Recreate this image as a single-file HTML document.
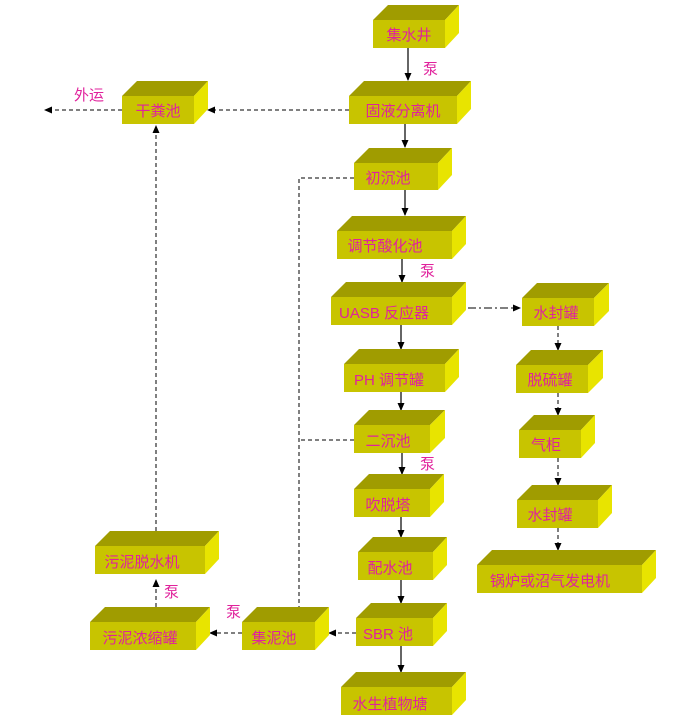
<!DOCTYPE html>
<html><head><meta charset="utf-8"><style>
html,body{margin:0;padding:0;background:#fff;}
svg{display:block}
text{font-family:"Liberation Sans","Noto Sans CJK SC",sans-serif;font-size:15px;fill:#e0229c;}
.f{fill:#c8c400}.t{fill:#a09c00}.r{fill:#e8e400}
.s{stroke:#000;stroke-width:1.2;fill:none}
.d{stroke:#000;stroke-width:1;fill:none;stroke-dasharray:4,3}
.dd{stroke:#000;stroke-width:1;fill:none;stroke-dasharray:8,3,2,3}
</style></head><body>
<svg width="684" height="723" viewBox="0 0 684 723" xmlns="http://www.w3.org/2000/svg">
<defs><marker id="a" markerWidth="8" markerHeight="8" refX="7" refY="4" orient="auto" markerUnits="userSpaceOnUse"><path d="M0,0.5 L8,4 L0,7.5 Z" fill="#000"/></marker></defs>

<!-- connectors -->
<line class="s" x1="408" y1="48" x2="408" y2="80" marker-end="url(#a)"/>
<line class="s" x1="405" y1="124" x2="405" y2="147" marker-end="url(#a)"/>
<line class="s" x1="405" y1="190" x2="405" y2="215" marker-end="url(#a)"/>
<line class="s" x1="402" y1="259" x2="402" y2="282" marker-end="url(#a)"/>
<line class="s" x1="401" y1="325" x2="401" y2="349" marker-end="url(#a)"/>
<line class="s" x1="401" y1="392" x2="401" y2="410" marker-end="url(#a)"/>
<line class="s" x1="402" y1="453" x2="402" y2="474" marker-end="url(#a)"/>
<line class="s" x1="401" y1="517" x2="401" y2="537" marker-end="url(#a)"/>
<line class="s" x1="401" y1="580" x2="401" y2="603" marker-end="url(#a)"/>
<line class="s" x1="401" y1="646" x2="401" y2="672" marker-end="url(#a)"/>

<line class="d" x1="349" y1="110" x2="208" y2="110" marker-end="url(#a)"/>
<line class="d" x1="122" y1="110" x2="45" y2="110" marker-end="url(#a)"/>
<polyline class="d" points="354,178 299,178 299,620" marker-end="url(#a)"/>
<line class="d" x1="354" y1="440" x2="299" y2="440"/>
<line class="d" x1="356" y1="633" x2="329" y2="633" marker-end="url(#a)"/>
<line class="d" x1="242" y1="633" x2="210" y2="633" marker-end="url(#a)"/>
<line class="d" x1="156" y1="607" x2="156" y2="580" marker-end="url(#a)"/>
<line class="d" x1="156" y1="531" x2="156" y2="126" marker-end="url(#a)"/>
<line class="dd" x1="452" y1="308" x2="520" y2="308" marker-end="url(#a)"/>
<line class="d" x1="558" y1="326" x2="558" y2="350" marker-end="url(#a)"/>
<line class="d" x1="558" y1="393" x2="558" y2="415" marker-end="url(#a)"/>
<line class="d" x1="558" y1="458" x2="558" y2="485" marker-end="url(#a)"/>
<line class="d" x1="558" y1="528" x2="558" y2="550" marker-end="url(#a)"/>

<!-- boxes -->
<g>
<polygon class="t" points="373,20 388,5 459,5 445,20"/><polygon class="r" points="445,20 459,5 459,33 445,48"/><rect class="f" x="373" y="20" width="72" height="28"/>
<text x="409" y="40" text-anchor="middle">集水井</text>

<polygon class="t" points="349,96 364,81 471,81 457,96"/><polygon class="r" points="457,96 471,81 471,109 457,124"/><rect class="f" x="349" y="96" width="108" height="28"/>
<text x="403" y="116" text-anchor="middle">固液分离机</text>

<polygon class="t" points="122,96 137,81 208,81 194,96"/><polygon class="r" points="194,96 208,81 208,109 194,124"/><rect class="f" x="122" y="96" width="72" height="28"/>
<text x="158" y="116" text-anchor="middle">干粪池</text>

<polygon class="t" points="354,163 369,148 452,148 438,163"/><polygon class="r" points="438,163 452,148 452,175 438,190"/><rect class="f" x="354" y="163" width="84" height="27"/>
<text x="388" y="183" text-anchor="middle">初沉池</text>

<polygon class="t" points="337,231 352,216 466,216 452,231"/><polygon class="r" points="452,231 466,216 466,244 452,259"/><rect class="f" x="337" y="231" width="115" height="28"/>
<text x="385" y="251" text-anchor="middle">调节酸化池</text>

<polygon class="t" points="331,297 346,282 466,282 452,297"/><polygon class="r" points="452,297 466,282 466,310 452,325"/><rect class="f" x="331" y="297" width="121" height="28"/>
<text x="384" y="318" text-anchor="middle">UASB 反应器</text>

<polygon class="t" points="522,298 537,283 609,283 594,298"/><polygon class="r" points="594,298 609,283 609,311 594,326"/><rect class="f" x="522" y="298" width="72" height="28"/>
<text x="556" y="318" text-anchor="middle">水封罐</text>

<polygon class="t" points="344,364 359,349 459,349 445,364"/><polygon class="r" points="445,364 459,349 459,377 445,392"/><rect class="f" x="344" y="364" width="101" height="28"/>
<text x="389" y="385" text-anchor="middle">PH 调节罐</text>

<polygon class="t" points="516,365 531,350 603,350 588,365"/><polygon class="r" points="588,365 603,350 603,378 588,393"/><rect class="f" x="516" y="365" width="72" height="28"/>
<text x="550" y="385" text-anchor="middle">脱硫罐</text>

<polygon class="t" points="354,425 369,410 445,410 430,425"/><polygon class="r" points="430,425 445,410 445,438 430,453"/><rect class="f" x="354" y="425" width="76" height="28"/>
<text x="388" y="446" text-anchor="middle">二沉池</text>

<polygon class="t" points="519,430 534,415 595,415 581,430"/><polygon class="r" points="581,430 595,415 595,443 581,458"/><rect class="f" x="519" y="430" width="62" height="28"/>
<text x="546" y="450" text-anchor="middle">气柜</text>

<polygon class="t" points="354,489 369,474 444,474 430,489"/><polygon class="r" points="430,489 444,474 444,502 430,517"/><rect class="f" x="354" y="489" width="76" height="28"/>
<text x="388" y="510" text-anchor="middle">吹脱塔</text>

<polygon class="t" points="517,500 532,485 612,485 598,500"/><polygon class="r" points="598,500 612,485 612,513 598,528"/><rect class="f" x="517" y="500" width="81" height="28"/>
<text x="550" y="520" text-anchor="middle">水封罐</text>

<polygon class="t" points="358,552 373,537 447,537 433,552"/><polygon class="r" points="433,552 447,537 447,565 433,580"/><rect class="f" x="358" y="552" width="75" height="28"/>
<text x="390" y="573" text-anchor="middle">配水池</text>

<polygon class="t" points="477,565 492,550 656,550 642,565"/><polygon class="r" points="642,565 656,550 656,578 642,593"/><rect class="f" x="477" y="565" width="165" height="28"/>
<text x="550" y="586" text-anchor="middle">锅炉或沼气发电机</text>

<polygon class="t" points="356,618 371,603 447,603 433,618"/><polygon class="r" points="433,618 447,603 447,631 433,646"/><rect class="f" x="356" y="618" width="77" height="28"/>
<text x="388" y="639" text-anchor="middle">SBR 池</text>

<polygon class="t" points="341,687 356,672 466,672 452,687"/><polygon class="r" points="452,687 466,672 466,700 452,715"/><rect class="f" x="341" y="687" width="111" height="28"/>
<text x="390" y="709" text-anchor="middle">水生植物塘</text>

<polygon class="t" points="95,546 110,531 219,531 205,546"/><polygon class="r" points="205,546 219,531 219,559 205,574"/><rect class="f" x="95" y="546" width="110" height="28"/>
<text x="142" y="567" text-anchor="middle">污泥脱水机</text>

<polygon class="t" points="90,622 105,607 210,607 196,622"/><polygon class="r" points="196,622 210,607 210,635 196,650"/><rect class="f" x="90" y="622" width="106" height="28"/>
<text x="140" y="643" text-anchor="middle">污泥浓缩罐</text>

<polygon class="t" points="242,622 257,607 329,607 315,622"/><polygon class="r" points="315,622 329,607 329,635 315,650"/><rect class="f" x="242" y="622" width="73" height="28"/>
<text x="274" y="643" text-anchor="middle">集泥池</text>
</g>

<text x="423" y="74" font-size="13">泵</text>
<text x="420" y="276" font-size="13">泵</text>
<text x="420" y="469" font-size="13">泵</text>
<text x="164" y="597" font-size="13">泵</text>
<text x="226" y="617" font-size="13">泵</text>
<text x="74" y="100" font-size="13">外运</text>
</svg>
</body></html>
